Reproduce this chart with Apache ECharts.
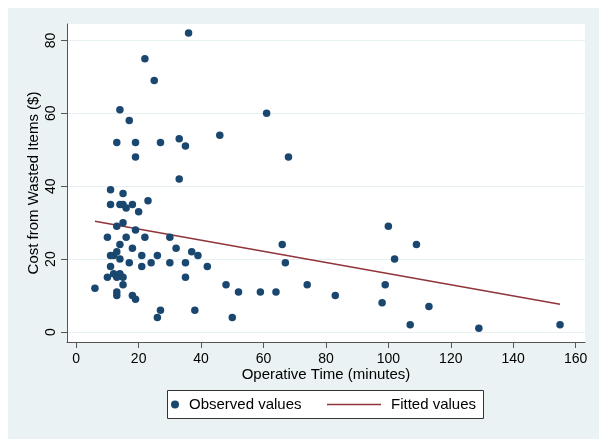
<!DOCTYPE html>
<html>
<head>
<meta charset="utf-8">
<script src="https://cdn.jsdelivr.net/npm/echarts@6/dist/echarts.min.js"></script>
<style>html,body{margin:0;padding:0;background:#fff}#c{width:606px;height:445px}</style>
</head>
<body>
<div id="c"></div>
<script>
// Observed points: operative time (minutes) and cost from wasted items ($)
var operativeTime = [36,22,25,14,17,13,19,27,33,35,19,33,11,15,11,14,15,16,18,23,20,15,13,19,10,16,22,30,14,18,32,37,39,13,11,12,14,21,26,17,21,24,30,35,42,11,10,12,14,15,35,15,6,13,13,18,19,27,26,38,46,61,68,66,67,48,52,59,64,50,74,83,100,109,102,99,98,113,107,129,155,13];
var wastedCost    = [82,75,69,61,58,52,52,52,53,51,48,42,39,38,35,35,35,34,35,36,33,30,29,28,26,26,26,26,24,23,23,22,21,22,21,21,20,21,21,19,18,19,19,19,18,18,15,16,16,15,15,13,12,11,10,10,9,6,4,6,54,60,48,24,19,13,11,11,11,4,13,10,29,24,20,13,8,7,2,1,2,15];
// Fitted (linear) line end points
var fitX = [6, 155];
var fitY = [30.4, 7.6];
var xTicks = [0,20,40,60,80,100,120,140,160];
var yTicks = [0,20,40,60,80];
var seriesNames = ['Observed values','Fitted values'];
var xTitle = 'Operative Time (minutes)';
var yTitle = 'Cost from Wasted Items ($)';

var scatterData = operativeTime.map(function(x,i){return [x, wastedCost[i]];});
var lineData = fitX.map(function(x,i){return [x, fitY[i]];});
var FONT = '"Liberation Sans", Arial, sans-serif';

var chart = echarts.init(document.getElementById('c'), null, {renderer:'canvas'});
chart.setOption({
  backgroundColor: '#ffffff',
  animation: false,
  textStyle: {fontFamily: FONT, color: '#000'},
  graphic: [
    {type:'rect', z:-10, shape:{x:8,y:8,width:591,height:431}, style:{fill:'#EAF2F3'}},
    {type:'rect', z:2, shape:{x:167.5,y:390.5,width:316,height:28}, style:{fill:'#fff', stroke:'#333', lineWidth:1}}
  ],
  grid: {left:67, right:21, top:24, bottom:103, show:true, backgroundColor:'#fff', borderWidth:0},
  xAxis: {
    type:'value', min:-2.95, max:163,
    axisLine:{show:true, onZero:false, lineStyle:{color:'#555', width:1}},
    axisTick:{show:true, length:6, customValues:xTicks, lineStyle:{color:'#555'}},
    axisLabel:{customValues:xTicks, fontSize:14, color:'#000', margin:10, fontFamily:FONT},
    splitLine:{show:false},
    name:xTitle, nameLocation:'middle', nameGap:25, nameMoveOverlap:false,
    nameTextStyle:{fontSize:15, color:'#000', fontFamily:FONT}
  },
  yAxis: {
    type:'value', min:-2.74, max:84.5,
    axisLine:{show:true, onZero:false, lineStyle:{color:'#555', width:1}},
    axisTick:{show:true, length:6, customValues:yTicks, lineStyle:{color:'#555'}},
    axisLabel:{customValues:yTicks, fontSize:14, color:'#000', margin:9, rotate:90, fontFamily:FONT},
    splitLine:{show:true, lineStyle:{color:'#E6EFF1', width:1}},
    name:yTitle, nameLocation:'middle', nameGap:26, nameMoveOverlap:false,
    nameTextStyle:{fontSize:15, color:'#000', fontFamily:FONT}
  },
  legend: [
    {data:[{name:seriesNames[0], icon:'circle'}], left:171, top:397, padding:0, itemWidth:8, itemHeight:8, z:5,
     textStyle:{fontSize:15, color:'#000', fontFamily:FONT, padding:[0,0,0,5]}},
    {data:[{name:seriesNames[1], icon:'rect', itemStyle:{color:'#90353B'}}], left:327, top:397, padding:0, itemWidth:54, itemHeight:1.5, z:5,
     textStyle:{fontSize:15, color:'#000', fontFamily:FONT, padding:[0,0,0,5]}}
  ],
  series: [
    {name:seriesNames[0], type:'scatter', data:scatterData, symbol:'circle', symbolSize:7.5,
     itemStyle:{color:'#1A476F', opacity:1}, z:3},
    {name:seriesNames[1], type:'line', data:lineData, symbol:'none', showSymbol:false,
     lineStyle:{color:'#90353B', width:1.5}, itemStyle:{color:'#90353B'}, z:2}
  ]
});
</script>
</body>
</html>
